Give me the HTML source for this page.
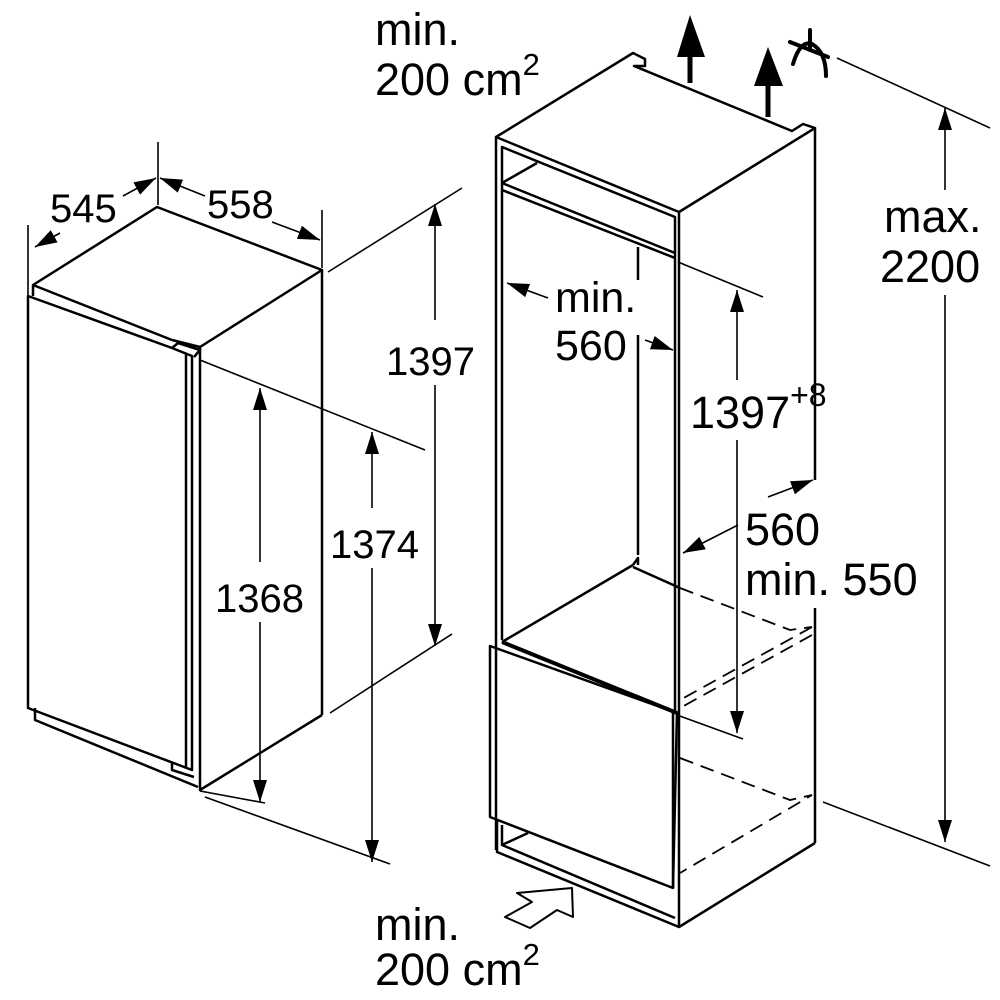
<!DOCTYPE html>
<html><head><meta charset="utf-8"><style>
html,body{margin:0;padding:0;background:#fff}
svg{display:block}
text{font-family:"Liberation Sans",Arial,sans-serif;font-size:40px;fill:#000}
.L{font-size:45px}
</style></head><body>
<svg width="1000" height="1000" viewBox="0 0 1000 1000" xmlns="http://www.w3.org/2000/svg">
<defs>
<marker id="a" markerUnits="userSpaceOnUse" markerWidth="24" markerHeight="14" refX="22" refY="7" orient="auto"><path d="M0,0 L22,7 L0,14 Z" fill="#000"/></marker>
<marker id="b" markerUnits="userSpaceOnUse" markerWidth="24" markerHeight="14" refX="2" refY="7" orient="auto"><path d="M24,0 L2,7 L24,14 Z" fill="#000"/></marker>
</defs>
<g fill="none" stroke="#000" stroke-width="2.5" stroke-linejoin="round">
<polyline points="33,296 33,285 157,207 322,270 200,347 172,340"/>
<line x1="33" y1="285" x2="172" y2="340"/>
<line x1="322" y1="270" x2="322" y2="715"/>
<polyline points="322,715 200,790 200,347"/>
<polygon points="28,296 172,348 192,356 192,770 28,708"/>
<polyline points="186,354 186,768"/>
<polyline points="172,348 178,343 200,350 194,357"/>
<polyline points="35,708 35,720 198,787"/>
<polyline points="172,762 172,770 194,777"/>
</g>
<g fill="none" stroke="#000" stroke-width="1.6">
<line x1="28" y1="225" x2="28" y2="295"/>
<line x1="158" y1="142" x2="158" y2="205"/>
<line x1="322" y1="210" x2="322" y2="268"/>
<line x1="35" y1="247" x2="60" y2="233" marker-start="url(#b)"/>
<line x1="123" y1="196" x2="156" y2="178" marker-end="url(#a)"/>
<line x1="160" y1="178" x2="205" y2="196" marker-start="url(#b)"/>
<line x1="272" y1="222" x2="320" y2="240" marker-end="url(#a)"/>
<line x1="328" y1="272" x2="462" y2="188"/>
<line x1="330" y1="713" x2="452" y2="634"/>
<line x1="435" y1="204" x2="435" y2="320" marker-start="url(#b)"/>
<line x1="435" y1="385" x2="435" y2="646" marker-end="url(#a)"/>
<line x1="200" y1="360" x2="425" y2="450"/>
<line x1="200" y1="791" x2="265" y2="803"/>
<line x1="205" y1="797" x2="390" y2="864"/>
<line x1="260" y1="388" x2="260" y2="562" marker-start="url(#b)"/>
<line x1="260" y1="622" x2="260" y2="802" marker-end="url(#a)"/>
<line x1="372" y1="432" x2="372" y2="508" marker-start="url(#b)"/>
<line x1="372" y1="568" x2="372" y2="862" marker-end="url(#a)"/>
</g>
<g fill="none" stroke="#000" stroke-width="2.5" stroke-linejoin="round">
<polyline points="496,850 496,137 633,53 645,59 645,66 634,66 792,131 803,124 815,128 679,212 496,137"/>
<line x1="815" y1="128" x2="815" y2="480"/>
<line x1="815" y1="608" x2="815" y2="843"/>
<polyline points="679,212 679,927 815,843"/>
<polyline points="502,640 502,147 675,217 675,712"/>
<line x1="502" y1="183" x2="675" y2="253"/>
<line x1="502" y1="183" x2="537" y2="163"/>
<line x1="502" y1="190" x2="675" y2="258"/>
<line x1="502" y1="642" x2="633" y2="565"/>
<polyline points="633,565 638,558 638,565"/>
<line x1="633" y1="567" x2="680" y2="588"/>
<polygon points="490,646 677,713 673,888 490,817"/>
<line x1="673" y1="713" x2="673" y2="888"/>
<line x1="502" y1="642" x2="677" y2="713" stroke-width="4"/>
<polyline points="497,820 497,852 679,927"/>
<polyline points="502,825 502,845 675,918"/>
<line x1="502" y1="845" x2="528" y2="833"/>
<line x1="638" y1="247" x2="638" y2="280"/>
<line x1="638" y1="335" x2="638" y2="555"/>
<polygon points="505,917 530,928 557,910 573,917 572,888 517,893 532,902" stroke-width="2"/>
</g>
<g fill="none" stroke="#000" stroke-width="1.8" stroke-dasharray="14,8">
<polyline points="680,588 790,630 812,627"/>
<line x1="812" y1="627" x2="680" y2="700"/>
<line x1="812" y1="635" x2="680" y2="708"/>
<polyline points="680,758 790,800 812,795 680,873"/>
</g>
<g fill="none" stroke="#000" stroke-width="1.6">
<line x1="678" y1="262" x2="763" y2="297"/>
<line x1="677" y1="715" x2="743" y2="739"/>
<line x1="737" y1="290" x2="737" y2="380" marker-start="url(#b)"/>
<line x1="737" y1="440" x2="737" y2="733" marker-end="url(#a)"/>
<line x1="507" y1="283" x2="548" y2="298" marker-start="url(#b)"/>
<line x1="645" y1="340" x2="673" y2="350" marker-end="url(#a)"/>
<line x1="683" y1="553" x2="738" y2="525" marker-start="url(#b)"/>
<line x1="768" y1="497" x2="813" y2="480" marker-end="url(#a)"/>
<line x1="837" y1="58" x2="990" y2="128"/>
<line x1="823" y1="802" x2="990" y2="866"/>
<line x1="945" y1="108" x2="945" y2="190" marker-start="url(#b)"/>
<line x1="945" y1="295" x2="945" y2="842" marker-end="url(#a)"/>
</g>
<g fill="#000" stroke="#000">
<line x1="690" y1="83" x2="690" y2="40" stroke-width="5"/>
<polygon points="677,57 705,57 690,15" stroke="none"/>
<line x1="768" y1="117" x2="768" y2="80" stroke-width="5"/>
<polygon points="754,86 783,86 768,47" stroke="none"/>
</g>
<g fill="none" stroke="#000" stroke-width="4" stroke-linecap="round">
<line x1="810" y1="30" x2="810" y2="50"/>
<line x1="790" y1="42" x2="828" y2="57"/>
<path d="M793,64 Q800,40 812,44 Q826,52 826,76"/>
</g>
<text class="L" x="375" y="45">min.</text>
<text class="L" x="375" y="95">200 cm<tspan dy="-20" font-size="31">2</tspan></text>
<text class="L" x="375" y="940">min.</text>
<text class="L" x="375" y="985">200 cm<tspan dy="-20" font-size="31">2</tspan></text>
<text x="50" y="222">545</text>
<text x="207" y="218">558</text>
<text x="386" y="375">1397</text>
<text x="330" y="558">1374</text>
<text x="215" y="612">1368</text>
<text class="L" x="555" y="312" style="font-size:43px">min.</text>
<text class="L" x="555" y="360" style="font-size:43px">560</text>
<text class="L" x="690" y="428">1397<tspan dy="-22" font-size="32">+8</tspan></text>
<text class="L" x="745" y="545">560</text>
<text class="L" x="745" y="595">min. 550</text>
<text class="L" x="884" y="232">max.</text>
<text class="L" x="880" y="282">2200</text>
</svg>
</body></html>
